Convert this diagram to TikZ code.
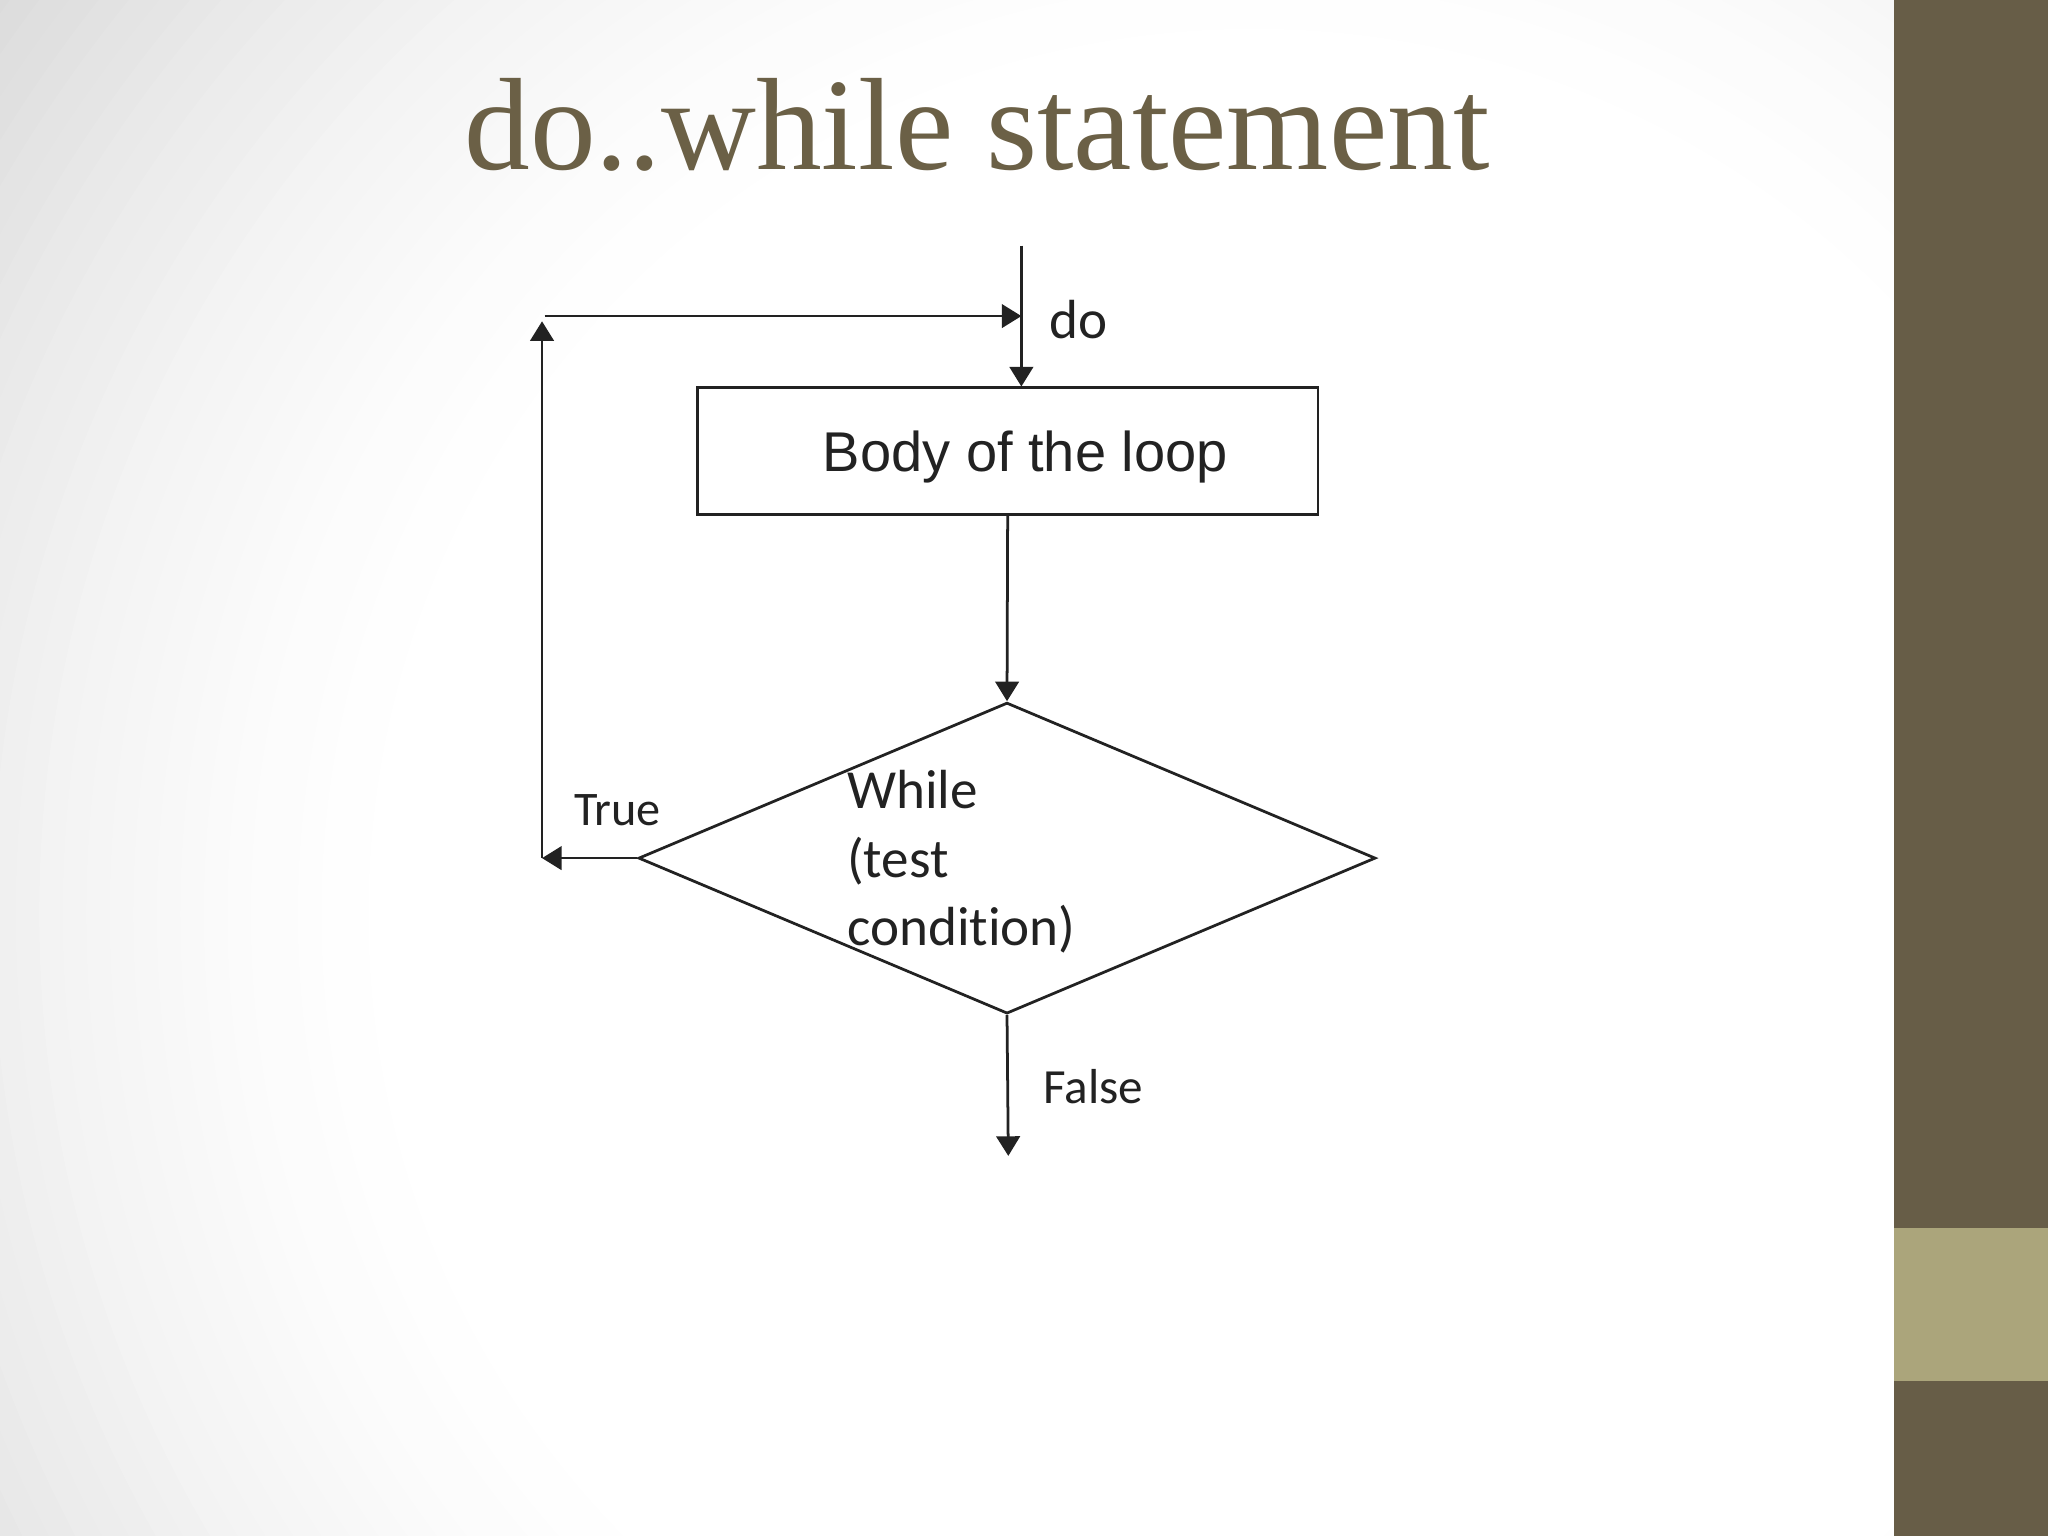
\documentclass[tikz,border=0pt]{standalone}
\usepackage{fontspec}
\setmainfont{Liberation Serif}
\newfontfamily\arialf{Liberation Sans}
\newfontfamily\calib[Ligatures=NoCommon]{Carlito}
\usetikzlibrary{shapes.geometric,arrows.meta}
\definecolor{titlecol}{HTML}{6B6046}
\definecolor{bardark}{HTML}{675D47}
\definecolor{barlight}{HTML}{ABA57B}
\definecolor{ink}{HTML}{222222}
\tikzset{
  conn/.style={draw=ink, line width=0.6pt, -{Triangle[length=0.15cm,width=0.18cm]}},
  shapeline/.style={draw=ink, line width=0.6pt},
  lbl/.style={text=ink, inner sep=0pt},
}
\begin{document}
\begin{tikzpicture}[x=0.01cm,y=-0.01cm]
\useasboundingbox (0,0) rectangle (1568,1176);
\begin{scope}
\clip (0,0) rectangle (1568,1176);
\fill[black!14] (0,0) rectangle (1568,1176);
\foreach \i in {0,...,30}{
  \pgfmathsetmacro{\rr}{1200-\i*18}
  \pgfmathsetmacro{\cc}{14*(1-\i/30)^1.5}
  \fill[black!\cc] (960,700) circle (\rr);
}
\end{scope}
\fill[bardark] (1450,0) rectangle (1568,1176);
\fill[barlight] (1450,940) rectangle (1568,1057);
% title
\node[anchor=base, text=titlecol, inner sep=0pt, font=\fontsize{28.6}{30}\selectfont] (title) at (748,130) {do..while statement};
% body box
\node[shapeline, rectangle, minimum width=4.75cm, minimum height=0.97cm, inner sep=0pt] (body) at (771.5,345.5) {};
\node[lbl, anchor=base, font=\arialf\fontsize{12.2}{14}\selectfont] (bodytxt) at (785,361) {Body of the loop};
% diamond
\node[shapeline, diamond, minimum width=5.64cm, minimum height=2.38cm, inner sep=0pt] (dia) at (771,657) {};
\node[lbl, anchor=base west, align=left, font=\calib\fontsize{12}{14.9}\selectfont] (cond) at (648,724) {While\\(test\\condit\kern0pt ion)};
% labels
\node[lbl, anchor=base west, font=\calib\fontsize{12}{14}\selectfont] (do) at (803,259) {do};
\node[lbl, anchor=base west, font=\calib\fontsize{10.5}{12}\selectfont] (true) at (439,632) {True};
\node[lbl, anchor=base west, font=\calib\fontsize{10.7}{12}\selectfont] (false) at (798,845) {False};
% coordinates
\coordinate (start) at (782,188);
\coordinate (tl) at (415,657);
\coordinate (tc) at (415,246);
\coordinate (tr) at (417,242);
\coordinate (tend) at (782,242);
\coordinate (fend) at (772,885);
% connectors
\draw[conn] (start) -- (start |- body.north);
\draw[conn] (body.south) -- (dia.north);
\draw[conn] (dia.west) -- (tl);
\draw[conn] (tl) -- (tc);
\draw[conn] (tr) -- (tend);
\draw[conn] (dia.south) -- (fend);
\end{tikzpicture}
\end{document}
